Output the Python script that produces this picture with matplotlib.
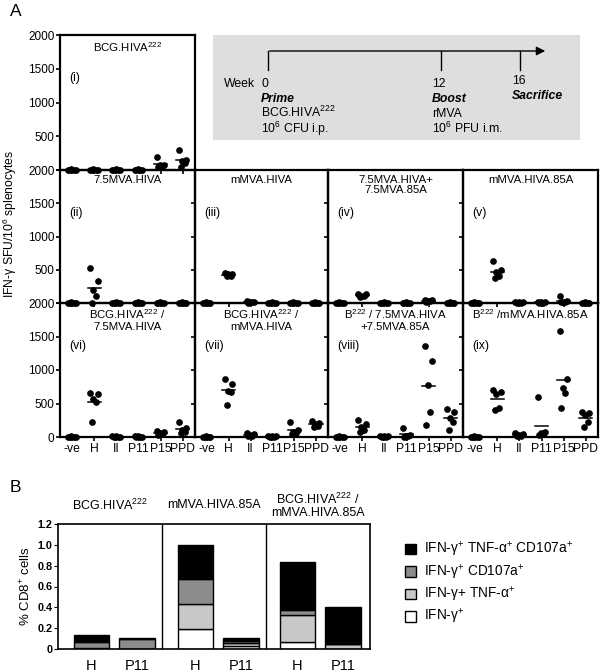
import matplotlib
matplotlib.use("Agg")
import matplotlib.pyplot as plt
import numpy as np

plt.rcParams['font.family'] = ['Liberation Sans', 'DejaVu Sans']
plt.rcParams['mathtext.fontset'] = 'custom'
plt.rcParams['mathtext.rm'] = 'Liberation Sans'
plt.rcParams['mathtext.it'] = 'Liberation Sans:italic'
plt.rcParams['mathtext.bf'] = 'Liberation Sans:bold'

# ---- data, panel A (SFU per 10^6 splenocytes, 5 mice per peptide) ----
peptides = ['-ve', 'H', 'II', 'P11', 'P15', 'PPD']

panel_i = [[5, 0, 10, 0, 5], [5, 0, 10, 0, 5], [5, 0, 10, 0, 5],
           [5, 0, 10, 0, 5], [190, 80, 70, 60, 50], [300, 150, 130, 100, 50]]
panel_ii = [[5, 0, 10, 0, 5], [520, 330, 200, 100, 0], [5, 0, 10, 0, 5],
            [5, 0, 10, 0, 5], [5, 0, 10, 0, 5], [5, 0, 10, 0, 5]]
panel_iii = [[5, 0, 10, 0, 5], [450, 440, 430, 410, 400], [30, 20, 10, 10, 5],
             [5, 0, 10, 0, 5], [5, 0, 10, 0, 5], [5, 0, 10, 0, 5]]
panel_iv = [[5, 0, 10, 0, 5], [140, 130, 110, 100, 90], [5, 0, 10, 0, 5],
            [5, 0, 10, 0, 5], [50, 40, 30, 30, 20], [5, 0, 10, 0, 5]]
panel_v = [[5, 0, 10, 0, 5], [630, 490, 470, 400, 375], [20, 10, 10, 5, 5],
           [20, 10, 10, 5, 5], [100, 30, 20, 10, 10], [5, 0, 10, 0, 5]]
panel_vi = [[5, 0, 10, 0, 5], [650, 640, 570, 520, 225], [10, 5, 10, 0, 5],
            [10, 5, 10, 0, 5], [90, 75, 60, 40, 30], [225, 135, 100, 80, 60]]
panel_vii = [[5, 0, 10, 0, 5], [870, 790, 690, 670, 480], [60, 40, 30, 20, 10],
             [20, 10, 10, 5, 5], [225, 105, 75, 60, 40], [240, 210, 200, 170, 150]]
panel_viii = [[5, 0, 10, 0, 5], [250, 200, 150, 100, 75], [20, 10, 10, 5, 5],
              [135, 30, 20, 10, 5], [1360, 1140, 780, 380, 180], [420, 380, 290, 220, 100]]
panel_ix = [[5, 0, 10, 0, 5], [700, 675, 640, 430, 400], [60, 40, 30, 20, 10],
            [600, 80, 60, 40, 30], [1575, 870, 735, 660, 435], [375, 360, 330, 225, 150]]

titles_A = ['BCG.HIVA$^{222}$', '7.5MVA.HIVA', 'mMVA.HIVA', '7.5MVA.HIVA+\n7.5MVA.85A',
            'mMVA.HIVA.85A', 'BCG.HIVA$^{222}$ /\n7.5MVA.HIVA', 'BCG.HIVA$^{222}$ /\nmMVA.HIVA',
            'B$^{222}$ / 7.5MVA.HIVA\n+7.5MVA.85A', 'B$^{222}$ /mMVA.HIVA.85A']
numerals = ['(i)', '(ii)', '(iii)', '(iv)', '(v)', '(vi)', '(vii)', '(viii)', '(ix)']

# ---- data, panel B (% CD8+ cells) ----
groups_B = ['BCG.HIVA$^{222}$', 'mMVA.HIVA.85A', 'BCG.HIVA$^{222}$ /\nmMVA.HIVA.85A']
bar_labels = ['H', 'P11', 'H', 'P11', 'H', 'P11']
ifn_only = [0.01, 0.0, 0.19, 0.03, 0.065, 0.0]
ifn_tnf = [0.0, 0.0, 0.24, 0.025, 0.265, 0.05]
ifn_cd107 = [0.055, 0.10, 0.238, 0.022, 0.04, 0.0]
triple = [0.065, 0.01, 0.332, 0.033, 0.47, 0.35]
legend_B = ['IFN-γ$^{+}$ TNF-α$^{+}$ CD107a$^{+}$', 'IFN-γ$^{+}$ CD107a$^{+}$',
            'IFN-γ+ TNF-α$^{+}$', 'IFN-γ$^{+}$']

W, H = 602, 672
fig = plt.figure(figsize=(W / 100, H / 100), dpi=100)


def px_axes(x0, y0, x1, y1, **kw):
    return fig.add_axes([x0 / W, 1 - y1 / H, (x1 - x0) / W, (y1 - y0) / H], **kw)


cols = [60, 195, 328, 463, 598]
rows = [35, 170, 303, 437]
cells = [(0, 0), (1, 0), (1, 1), (1, 2), (1, 3), (2, 0), (2, 1), (2, 2), (2, 3)]
panels = [panel_i, panel_ii, panel_iii, panel_iv, panel_v,
          panel_vi, panel_vii, panel_viii, panel_ix]
jitter = np.array([-0.18, 0.16, -0.04, 0.08, -0.1])

for k, (r, c) in enumerate(cells):
    ax = px_axes(cols[c], rows[r], cols[c + 1], rows[r + 1])
    ax.set_zorder(10 - c)
    ax.patch.set_alpha(0)
    for i, vals in enumerate(panels[k]):
        ax.plot(i + jitter, vals, 'o', color='black', ms=3.8, clip_on=False, zorder=3)
        ax.plot([i - 0.3, i + 0.3], [np.mean(vals)] * 2, color='black', lw=1.1, zorder=3)
    ax.set_xlim(-0.55, 5.55)
    ax.set_ylim(0, 2000)
    ax.set_yticks([0, 500, 1000, 1500, 2000])
    ax.set_xticks(range(6))
    for s in ax.spines.values():
        s.set_linewidth(1.6)
    ax.tick_params(length=3, width=1.2, labelsize=8.5, pad=1)
    if c == 0:
        if r < 2:
            ax.set_yticklabels(['', '500', '1000', '1500', '2000'])
    else:
        ax.set_yticklabels([])
    if r == 2:
        ax.set_xticklabels(peptides, fontsize=8.7)
    else:
        ax.set_xticklabels([])
    ax.text(0.5, 0.965, titles_A[k], transform=ax.transAxes, ha='center', va='top',
            fontsize=8.2, linespacing=1.05)
    ax.text(0.07, 0.68, numerals[k], transform=ax.transAxes, ha='left', va='center',
            fontsize=8.7)

fig.text(10 / W, 1 - 12 / H, 'A', fontsize=12.5, ha='left', va='center')
fig.text(10 / W, 1 - 224 / H, 'IFN-γ SFU/10$^{6}$ splenocytes', rotation=90,
         ha='center', va='center', fontsize=8.7)

# ---- timeline box ----
tb = px_axes(213, 35, 580, 140)
tb.set_facecolor('#dedede')
tb.set_xlim(213, 580)
tb.set_ylim(140, 35)
tb.set_xticks([])
tb.set_yticks([])
for s in tb.spines.values():
    s.set_visible(False)
tb.annotate('', xy=(548, 51), xytext=(267, 51),
            arrowprops=dict(arrowstyle='-|>', color='black', lw=1, mutation_scale=13))
for xv in [268, 441, 520]:
    tb.plot([xv, xv], [51, 70], color='black', lw=1)
fs = 8.8
tb.text(224, 84, 'Week', fontsize=fs, va='center')
tb.text(261, 84, '0', fontsize=fs, va='center')
tb.text(261, 99, 'Prime', fontsize=fs, va='center', weight='bold', style='italic')
tb.text(261, 117, 'BCG.HIVA$^{222}$', fontsize=fs, va='baseline')
tb.text(261, 133, '10$^{6}$ CFU i.p.', fontsize=fs, va='baseline')
tb.text(432, 84, '12', fontsize=fs, va='center')
tb.text(432, 99, 'Boost', fontsize=fs, va='center', weight='bold', style='italic')
tb.text(432, 117, 'rMVA', fontsize=fs, va='baseline')
tb.text(432, 133, '10$^{6}$ PFU i.m.', fontsize=fs, va='baseline')
tb.text(512, 81, '16', fontsize=fs, va='center')
tb.text(512, 96, 'Sacrifice', fontsize=fs, va='center', weight='bold', style='italic')

# ---- panel B ----
fig.text(10 / W, 1 - 488 / H, 'B', fontsize=12.5, ha='left', va='center')
bx = px_axes(58, 524, 370, 649)
pos = np.array([0.32, 0.76, 1.32, 1.76, 2.30, 2.74])
colors = ['white', '#c8c8c8', '#8c8c8c', 'black']
stack = [ifn_only, ifn_tnf, ifn_cd107, triple]
bottom = np.zeros(6)
handles = []
for vals, col in zip(stack, colors):
    h = bx.bar(pos, vals, 0.34, bottom=bottom, color=col, edgecolor='black', lw=1)
    handles.append(h)
    bottom += np.array(vals)
bx.axvline(1, color='black', lw=1)
bx.axvline(2, color='black', lw=1)
bx.set_xlim(0, 3)
bx.set_ylim(0, 1.2)
bx.set_yticks([0, 0.2, 0.4, 0.6, 0.8, 1.0, 1.2])
bx.set_yticklabels(['0', '0.2', '0.4', '0.6', '0.8', '1.0', '1.2'], fontweight='bold')
bx.set_xticks(pos)
bx.set_xticklabels(bar_labels, fontsize=10.5)
bx.tick_params(axis='x', length=0, pad=7)
bx.tick_params(axis='y', length=3, labelsize=7.8, pad=1)
for s in bx.spines.values():
    s.set_linewidth(1.2)
for g, t in enumerate(groups_B):
    bx.text(g + 0.5, 1.38, t, ha='center', va='center', fontsize=9, linespacing=1.05)
bx.set_ylabel('% CD8$^{+}$ cells', fontsize=9.5, labelpad=3)

fig.legend(handles[::-1], legend_B, loc='upper left',
           bbox_to_anchor=(393 / W, 1 - 528 / H), frameon=False, fontsize=9.8,
           handlelength=0.8, handleheight=0.8, labelspacing=0.25, handletextpad=0.6)

fig.savefig('out.png', dpi=100)
